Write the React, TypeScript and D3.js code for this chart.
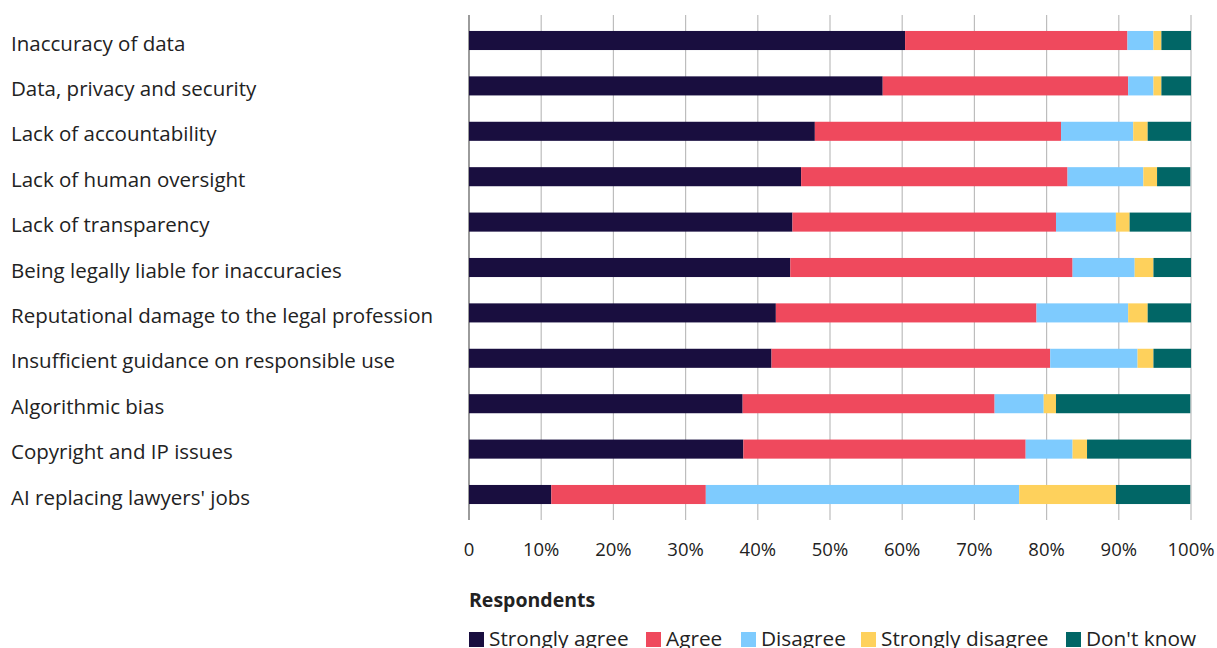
import React from "react";
import * as d3 from "d3";

const categories = [
  "Inaccuracy of data",
  "Data, privacy and security",
  "Lack of accountability",
  "Lack of human oversight",
  "Lack of transparency",
  "Being legally liable for inaccuracies",
  "Reputational damage to the legal profession",
  "Insufficient guidance on responsible use",
  "Algorithmic bias",
  "Copyright and IP issues",
  "AI replacing lawyers' jobs",
];

const seriesNames = ["Strongly agree", "Agree", "Disagree", "Strongly disagree", "Don't know"];
const seriesColors = ["#190e3f", "#ef495d", "#7ecbfe", "#fed15c", "#016666"];

const stronglyAgree = [60.4, 57.3, 47.9, 46.0, 44.8, 44.5, 42.5, 41.9, 37.9, 38.0, 11.4];
const agree = [30.8, 34.0, 34.1, 36.9, 36.5, 39.1, 36.1, 38.6, 34.9, 39.1, 21.4];
const disagree = [3.6, 3.5, 10.0, 10.5, 8.3, 8.6, 12.7, 12.1, 6.8, 6.5, 43.4];
const stronglyDisagree = [1.1, 1.1, 2.0, 1.9, 1.9, 2.6, 2.7, 2.2, 1.7, 2.0, 13.4];
const dontKnow = [4.1, 4.1, 6.0, 4.6, 8.5, 5.2, 6.0, 5.2, 18.6, 14.4, 10.3];

const tickValues = [0, 10, 20, 30, 40, 50, 60, 70, 80, 90, 100];
const tickLabels = ["0", "10%", "20%", "30%", "40%", "50%", "60%", "70%", "80%", "90%", "100%"];

const axisTitle = "Respondents";

const W = 1217;
const H = 648;
const FONT = "'Open Sans', sans-serif";

export default function App() {
  const x = d3.scaleLinear().domain([0, 100]).range([469, 1191]);
  const y = d3
    .scaleBand<string>()
    .domain(categories)
    .range([17.8, 517.2])
    .paddingInner(0.58)
    .paddingOuter(0.29);

  const rows = categories.map((c, i) => ({
    cat: c,
    s0: stronglyAgree[i],
    s1: agree[i],
    s2: disagree[i],
    s3: stronglyDisagree[i],
    s4: dontKnow[i],
  }));
  const keys = ["s0", "s1", "s2", "s3", "s4"];
  const stack = d3.stack<any>().keys(keys)(rows);

  const legendX = [469, 646, 741, 861, 1066];

  return (
    <svg
      width={W}
      height={H}
      style={{ position: "absolute", left: 0, top: 0, background: "#fff" }}
      fontFamily={FONT}
    >
      {tickValues.map((t) => (
        <line
          key={"g" + t}
          x1={x(t)}
          x2={x(t)}
          y1={15}
          y2={520}
          stroke={t === 0 ? "#666" : "#bdbdbd"}
          strokeWidth={t === 0 ? 1.3 : 1.2}
        />
      ))}
      {stack.map((layer, si) =>
        layer.map((d, i) => (
          <rect
            key={si + "-" + i}
            x={x(d[0])}
            y={y(categories[i])!}
            width={Math.max(0, x(d[1]) - x(d[0]))}
            height={y.bandwidth()}
            fill={seriesColors[si]}
          />
        ))
      )}
      {categories.map((c) => (
        <text
          key={c}
          x={11}
          y={y(c)! + y.bandwidth() / 2 + 3}
          dy="0.35em"
          fontSize={20.5}
          fill="#222"
        >
          {c}
        </text>
      ))}
      {tickValues.map((t, i) => (
        <text
          key={"t" + t}
          x={x(t)}
          y={550}
          dy="0.35em"
          textAnchor="middle"
          fontSize={18.5}
          fill="#222"
        >
          {tickLabels[i]}
        </text>
      ))}
      <text x={469} y={600} dy="0.35em" fontSize={19.5} fontWeight="bold" fill="#222">
        {axisTitle}
      </text>
      {seriesNames.map((n, i) => (
        <g key={n}>
          <rect x={legendX[i]} y={632} width={15} height={15} fill={seriesColors[i]} />
          <text x={legendX[i] + 20} y={646} fontSize={20.8} fill="#222">
            {n}
          </text>
        </g>
      ))}
    </svg>
  );
}
